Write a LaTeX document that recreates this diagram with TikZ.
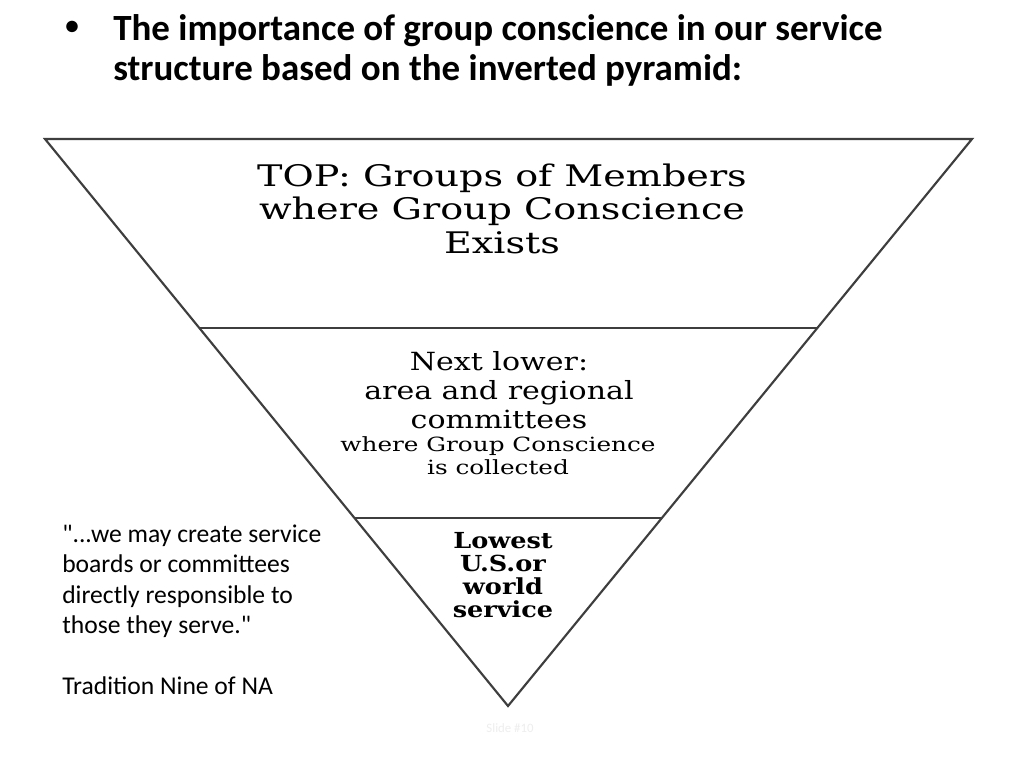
\documentclass[tikz,border=0pt]{standalone}
\usepackage{fontspec}
\setmainfont{Carlito}
\newfontfamily\slabfont{DejaVu Serif}
\usepackage{graphicx}
\usepackage{tikz}
\usetikzlibrary{calc}
\definecolor{edge}{RGB}{62,62,62}
\definecolor{faint}{RGB}{238,238,238}
\newcommand\widetext[4]{\scalebox{#1}[#2]{\begin{tabular}{@{}#3@{}}#4\end{tabular}}}

\begin{document}
\begin{tikzpicture}[x=0.703125pt,y=-0.703125pt,
  tier/.style={inner sep=0pt,anchor=north},
  side/.style={inner sep=0pt,anchor=north west}]
  \useasboundingbox[fill=white] (0,0) rectangle (1024,768);
  \coordinate (tl) at (45,139);
  \coordinate (tr) at (972,139);
  \coordinate (ap) at (508,706);
  \draw[edge,line width=1.5pt,line join=miter] (tl) -- (tr) -- (ap) -- cycle;
  \foreach \f in {0.3333,0.6684}
    \draw[edge,line width=1.5pt] ($(tl)!\f!(ap)$) -- ($(tr)!\f!(ap)$);
  \node[inner sep=0pt,font=\bfseries\fontsize{19}{21}\selectfont] (dot) at (72,28) {\textbullet};
  \node[side,font=\bfseries\fontsize{26}{28.1}\selectfont] (title) at (113,12)
    {\widetext{1}{1}{l}{The importance of group conscience in our service\\structure based on the inverted pyramid:}};
  \node[tier,font=\slabfont\fontsize{19}{21.45}\selectfont] (top) at (502,162.5)
    {\widetext{1.41}{1.1}{c}{TOP: Groups of Members\\where Group Conscience\\Exists}};
  \node[tier,font=\slabfont\fontsize{16}{18.55}\selectfont] (next) at (499,349.7)
    {\widetext{1.32}{1.1}{c}{Next lower:\\area and regional\\committees}};
  \node[tier,font=\slabfont\fontsize{12.5}{15}\selectfont] (coll) at (498,434.5)
    {\widetext{1.39}{1.1}{c}{where Group Conscience\\is collected}};
  \node[tier,font=\slabfont\bfseries\fontsize{13.5}{12.52}\selectfont] (low) at (503,532.6)
    {\widetext{1.33}{1.15}{c}{Lowest\\U.S.or\\world\\service}};
  \node[side,font=\fontsize{18}{21.4}\selectfont] (quote) at (62,520.6)
    {\widetext{1}{1}{l}{\textquotedbl...we may create service\\boards or committees\\directly responsible to\\those they serve.\textquotedbl\\ \\Tradition Nine of NA}};
  \node[inner sep=0pt,text=faint,font=\fontsize{9}{11}\selectfont] (slide) at (510,728) {Slide \#10};
\end{tikzpicture}
\end{document}
